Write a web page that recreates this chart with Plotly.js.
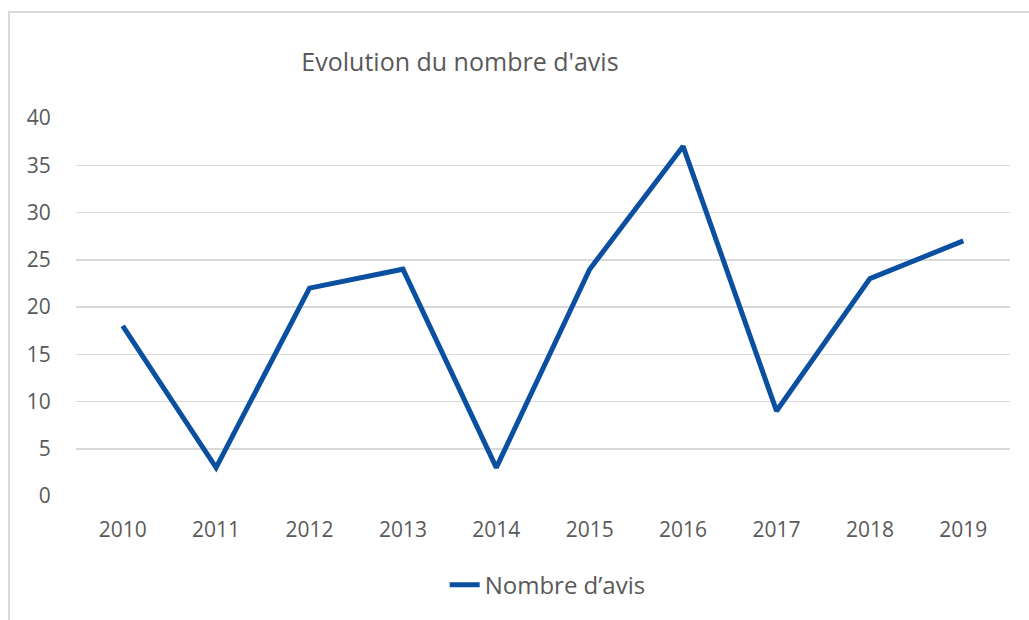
<!DOCTYPE html>
<html>
<head>
<meta charset="utf-8">
<script src="https://cdn.plot.ly/plotly-3.0.1.min.js"></script>
<style>
html,body{margin:0;padding:0;background:#fff;overflow:hidden;}
#wrap{position:relative;width:1029px;height:620px;}
#chart{position:absolute;left:0;top:0;width:1029px;height:620px;}
#frame{position:absolute;left:8px;top:11px;width:1100px;height:700px;border:2px solid #d9d9d9;pointer-events:none;}
</style>
</head>
<body>
<div id="wrap">
<div id="chart"></div>
<div id="frame"></div>
</div>
<script>
const years = ["2010","2011","2012","2013","2014","2015","2016","2017","2018","2019"];
const avis = [18, 3, 22, 24, 3, 24, 37, 9, 23, 27];
const seriesName = "Nombre d\u2019avis";
const chartTitle = "Evolution du nombre d'avis";

const fontFam = "'Open Sans', 'Noto Sans', sans-serif";
const trace = {
  x: years, y: avis, type: "scatter", mode: "lines", name: seriesName,
  line: {color: "#0b4fa0", width: 5, shape: "linear"},
  hoverinfo: "x+y"
};
const layout = {
  width: 1029, height: 620,
  margin: {l: 76, r: 19, t: 118, b: 122},
  paper_bgcolor: "rgba(0,0,0,0)", plot_bgcolor: "rgba(0,0,0,0)",
  font: {family: fontFam, color: "#595959", size: 21},
  title: {text: chartTitle, font: {family: fontFam, size: 25, color: "#595959"},
          xref: "container", x: 0.447, xanchor: "center", yref: "container", y: 0.9, yanchor: "middle"},
  showlegend: true,
  legend: {orientation: "h", x: 0.505, xanchor: "center", y: -0.236, yanchor: "middle",
           font: {family: fontFam, size: 24, color: "#595959"}},
  xaxis: {type: "category", range: [-0.5, 9.5], showgrid: false, zeroline: false, showline: false,
          ticks: "outside", ticklen: 15, tickcolor: "rgba(0,0,0,0)",
          tickfont: {family: fontFam, size: 21, color: "#595959"}, fixedrange: true},
  yaxis: {range: [0, 40], dtick: 5, tick0: 0, showgrid: true, gridcolor: "#d9d9d9", gridwidth: 1.5,
          zeroline: false, showline: false, ticks: "outside", ticklen: 20, tickcolor: "rgba(0,0,0,0)",
          tickfont: {family: fontFam, size: 21, color: "#595959"}, fixedrange: true}
};
Plotly.newPlot("chart", [trace], layout, {displayModeBar: false, staticPlot: true});
</script>
</body>
</html>
